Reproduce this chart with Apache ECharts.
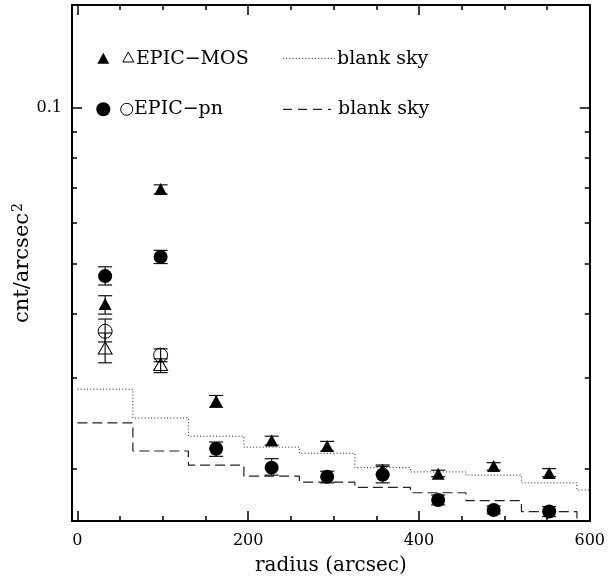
<!DOCTYPE html>
<html><head><meta charset="utf-8">
<script src="https://cdn.jsdelivr.net/npm/echarts@6/dist/echarts.min.js"></script>
<style>html,body{margin:0;padding:0;background:#fff}#c{width:608px;height:581px}</style>
</head><body><div id="c"></div>
<script>
// ---- data ----
const RADIUS = [32.5, 97.5, 162.5, 227.5, 292.5, 357.5, 422.5, 487.5, 552.5];
const MOS_VALUES = [0.04172, 0.06970, 0.02708, 0.02271, 0.02214, 0.01995, 0.01958, 0.02026, 0.01964];
const MOS_HIGH   = [0.04331, 0.07103, 0.02775, 0.02314, 0.02261, 0.02035, 0.01988, 0.02056, 0.02002];
const MOS_LOW    = [0.03990, 0.06818, 0.02632, 0.02224, 0.02166, 0.01956, 0.01931, 0.01988, 0.01931];
const PN_VALUES  = [0.04727, 0.05150, 0.02188, 0.02011, 0.01931, 0.01948, 0.01741, 0.01665, 0.01653];
const PN_HIGH    = [0.04928, 0.05303, 0.02254, 0.02093, 0.01979, 0.02023, 0.01780, 0.01695, 0.01690];
const PN_LOW     = [0.04543, 0.05000, 0.02115, 0.01945, 0.01879, 0.01879, 0.01703, 0.01636, 0.01617];
const OPEN_RADIUS = [32.5, 97.5];
const MOS_OPEN_VALUES = [0.03431, 0.03187];
const MOS_OPEN_HIGH   = [0.03667, 0.03268];
const MOS_OPEN_LOW    = [0.03211, 0.03073];
const PN_OPEN_VALUES  = [0.03695, 0.03322];
const PN_OPEN_HIGH    = [0.03903, 0.03417];
const PN_OPEN_LOW     = [0.03524, 0.03226];
const SKY_MOS_EDGES  = [0, 65, 130, 195, 260, 325, 390, 455, 520, 585, 600];
const SKY_MOS_VALUES = [0.02853, 0.02510, 0.02314, 0.02204, 0.02144, 0.02011, 0.01973, 0.01945, 0.01879, 0.01820, 0.01820];
const SKY_PN_EDGES   = [0, 65, 130, 195, 260, 325, 390, 455, 520, 585];
const SKY_PN_VALUES  = [0.02455, 0.02166, 0.02033, 0.01936, 0.01885, 0.01841, 0.01798, 0.01736, 0.01653, 0.015849];
const X_MIN = -6.3, X_MAX = 600;
const X_MINOR_TICKS = [0, 50, 100, 150, 200, 250, 300, 350, 400, 450, 500, 550, 600];
const X_MAJOR_TICKS = [0, 200, 400, 600];
const Y_MIN = 0.015849, Y_MAX = 0.15849;
const Y_MINOR_TICKS = [0.02, 0.03, 0.04, 0.05, 0.06, 0.07, 0.08, 0.09];
const Y_MAJOR_TICKS = [0.1];
const Y_LABELS = ['0.1'];

const FONT = 'DejaVu Serif';
const chart = echarts.init(document.getElementById('c'));

function xAxis(position, ticks, len, line, labels) {
  return {
    type: 'value', position, min: X_MIN, max: X_MAX, gridIndex: 0,
    axisLine: {show: line, onZero: false, lineStyle: {color: '#000', width: 2}},
    axisTick: {show: true, inside: true, length: len, customValues: ticks, lineStyle: {color: '#000', width: 1.5}},
    axisLabel: labels ? {show: true, customValues: labels, margin: 12, color: '#000', fontFamily: FONT, fontSize: 16} : {show: false},
    splitLine: {show: false}
  };
}
const lg = v => Math.log10(v);
function yAxis(position, ticks, len, line, labels) {
  return {
    type: 'value', position, min: lg(Y_MIN), max: lg(Y_MAX), gridIndex: 0,
    axisLine: {show: line, onZero: false, lineStyle: {color: '#000', width: 2}},
    axisTick: {show: true, inside: true, length: len, customValues: ticks.map(lg), lineStyle: {color: '#000', width: 1.5}},
    axisLabel: labels ? {show: true, customValues: Y_MAJOR_TICKS.map(lg), margin: 10, color: '#000', fontFamily: FONT, fontSize: 16,
      formatter: v => { const i = Y_MAJOR_TICKS.findIndex(t => Math.abs(lg(t) - v) < 1e-6); return i >= 0 ? Y_LABELS[i] : ''; }} : {show: false},
    splitLine: {show: false}
  };
}
function errorBars(xs, lows, highs) {
  return {
    type: 'custom', xAxisIndex: 0, yAxisIndex: 0, z: 3, silent: true,
    data: xs.map((x, i) => [x, lows[i], highs[i]]),
    encode: {x: 0, y: [1, 2]},
    renderItem: function (params, api) {
      const x = api.value(0);
      const lo = api.coord([x, api.value(1)]);
      const hi = api.coord([x, api.value(2)]);
      const hw = 7;
      const style = {stroke: '#111', lineWidth: 1.2};
      return {type: 'group', children: [
        {type: 'line', shape: {x1: lo[0], y1: lo[1], x2: hi[0], y2: hi[1]}, style},
        {type: 'line', shape: {x1: lo[0] - hw, y1: lo[1], x2: lo[0] + hw, y2: lo[1]}, style},
        {type: 'line', shape: {x1: hi[0] - hw, y1: hi[1], x2: hi[0] + hw, y2: hi[1]}, style}
      ]};
    }
  };
}
function pts(xs, ys) { return xs.map((x, i) => [x, ys[i]]); }

const xAxes = [
  xAxis('bottom', X_MINOR_TICKS, 5, true, X_MAJOR_TICKS),
  xAxis('bottom', X_MAJOR_TICKS, 10, false, null),
  xAxis('top', X_MINOR_TICKS, 5, true, null),
  xAxis('top', X_MAJOR_TICKS, 10, false, null)
];
xAxes[0].name = 'radius (arcsec)';
xAxes[0].nameLocation = 'middle';
xAxes[0].nameGap = 35;
xAxes[0].nameTextStyle = {color: '#000', fontFamily: FONT, fontSize: 20};

const yAxes = [
  {type: 'log', logBase: 10, min: Y_MIN, max: Y_MAX, show: false, gridIndex: 0},
  yAxis('left', Y_MINOR_TICKS, 5, true, false),
  yAxis('left', Y_MAJOR_TICKS, 10, false, true),
  yAxis('right', Y_MINOR_TICKS, 5, true, false),
  yAxis('right', Y_MAJOR_TICKS, 10, false, false)
];
yAxes[1].name = '{a|cnt/arcsec}{s|2}';
yAxes[1].nameLocation = 'middle';
yAxes[1].nameGap = 37;
yAxes[1].nameTextStyle = {color: '#000', fontFamily: FONT, fontSize: 21,
  rich: {a: {fontFamily: FONT, fontSize: 21, color: '#000'}, s: {fontFamily: FONT, fontSize: 14, color: '#000', verticalAlign: 'top', padding: [0, 0, 10, 1]}}};

const solid = {color: '#000', opacity: 1};
const hollow = {color: 'rgba(0,0,0,0)', borderColor: '#000', borderWidth: 1, opacity: 1};
const option = {
  animation: false,
  backgroundColor: '#fff',
  grid: {left: 72, right: 16, top: 5, bottom: 58, containLabel: false},
  xAxis: xAxes,
  yAxis: yAxes,
  series: [
    {type: 'line', step: 'end', showSymbol: false, symbol: 'none', xAxisIndex: 0, yAxisIndex: 0, z: 2,
      data: pts(SKY_MOS_EDGES, SKY_MOS_VALUES), lineStyle: {color: '#222', width: 1, type: [1, 2.2]}},
    {type: 'line', step: 'end', showSymbol: false, symbol: 'none', xAxisIndex: 0, yAxisIndex: 0, z: 2,
      data: pts(SKY_PN_EDGES, SKY_PN_VALUES), lineStyle: {color: '#222', width: 1.2, type: [10, 5]}},
    errorBars(RADIUS, MOS_LOW, MOS_HIGH),
    errorBars(OPEN_RADIUS, MOS_OPEN_LOW, MOS_OPEN_HIGH),
    errorBars(OPEN_RADIUS, PN_OPEN_LOW, PN_OPEN_HIGH),
    errorBars(RADIUS, PN_LOW, PN_HIGH),
    {type: 'scatter', xAxisIndex: 0, yAxisIndex: 0, z: 4, symbol: 'triangle', symbolSize: [13, 12],
      data: pts(RADIUS, MOS_VALUES), itemStyle: solid},
    {type: 'scatter', xAxisIndex: 0, yAxisIndex: 0, z: 4, symbol: 'triangle', symbolSize: [14, 12],
      data: pts(OPEN_RADIUS, MOS_OPEN_VALUES), itemStyle: hollow},
    {type: 'scatter', xAxisIndex: 0, yAxisIndex: 0, z: 4, symbol: 'circle', symbolSize: 14,
      data: pts(OPEN_RADIUS, PN_OPEN_VALUES), itemStyle: hollow},
    {type: 'scatter', xAxisIndex: 0, yAxisIndex: 0, z: 5, symbol: 'circle', symbolSize: 14,
      data: pts(RADIUS, PN_VALUES), itemStyle: solid}
  ],
  graphic: [
    {type: 'polygon', shape: {points: [[97.3, 63.8], [109.3, 63.8], [103.3, 52.8]]}, style: {fill: '#000'}},
    {type: 'polygon', shape: {points: [[122.8, 62], [133.8, 62], [128.3, 52]]}, style: {fill: 'none', stroke: '#000', lineWidth: 1}},
    {type: 'text', x: 136, y: 59, style: {text: 'EPIC\u2212MOS', fill: '#000', font: '19px "DejaVu Serif"', verticalAlign: 'middle'}},
    {type: 'line', shape: {x1: 283, y1: 58.3, x2: 335, y2: 58.3}, style: {stroke: '#222', lineWidth: 1, lineDash: [1, 2.2]}},
    {type: 'text', x: 337, y: 59, style: {text: 'blank sky', fill: '#000', font: '19px "DejaVu Serif"', verticalAlign: 'middle'}},
    {type: 'circle', shape: {cx: 103.3, cy: 109.3, r: 7}, style: {fill: '#000'}},
    {type: 'circle', shape: {cx: 126.7, cy: 109.3, r: 6}, style: {fill: 'none', stroke: '#000', lineWidth: 1}},
    {type: 'text', x: 134, y: 109.5, style: {text: 'EPIC\u2212pn', fill: '#000', font: '19px "DejaVu Serif"', verticalAlign: 'middle'}},
    {type: 'line', shape: {x1: 283, y1: 109.3, x2: 331, y2: 109.3}, style: {stroke: '#222', lineWidth: 1.2, lineDash: [9, 6]}},
    {type: 'text', x: 338, y: 109.5, style: {text: 'blank sky', fill: '#000', font: '19px "DejaVu Serif"', verticalAlign: 'middle'}}
  ]
};
chart.setOption(option);
</script></body></html>
